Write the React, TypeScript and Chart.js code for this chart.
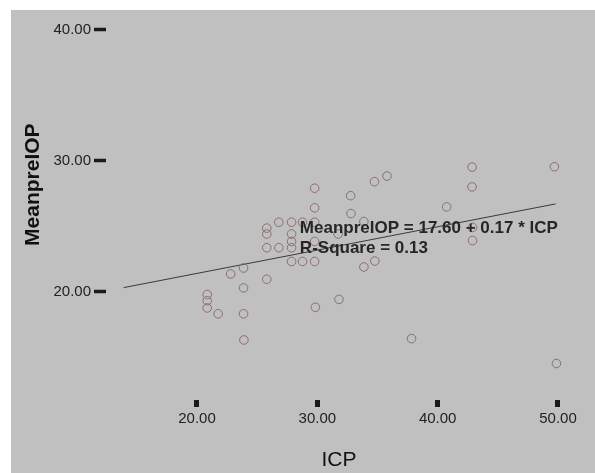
import React, { useEffect, useRef } from "react";
import { Chart, registerables } from "chart.js";

Chart.register(...registerables);

const icp = [
  20.85, 20.85, 20.85, 21.76, 22.8, 23.87, 23.87, 23.87, 23.9, 25.8,
  25.8, 25.8, 25.8, 26.8, 26.8, 27.86, 27.86, 27.86, 27.86, 27.86,
  28.77, 28.77, 29.78, 29.78, 29.78, 29.78, 29.78, 29.84, 31.73, 31.8,
  32.77, 32.8, 33.87, 33.87, 34.75, 34.78, 35.79, 37.83, 40.75, 42.86,
  42.86, 42.9, 42.9, 49.7, 49.87,
];
const meanPreIOP = [
  19.77, 19.3, 18.75, 18.3, 21.35, 21.8, 20.28, 18.3, 16.3, 24.85,
  24.4, 23.35, 20.94, 25.3, 23.35, 25.3, 24.4, 23.83, 23.35, 22.3,
  25.3, 22.3, 27.9, 26.4, 25.3, 23.83, 22.3, 18.8, 24.4, 19.4,
  27.33, 25.96, 25.35, 21.88, 28.4, 22.33, 28.83, 16.4, 26.47, 29.52,
  28.0, 24.9, 23.9, 29.54, 14.5,
];

// Fitted line end points as drawn
const fitX = [13.9, 49.8];
const fitY = [20.3, 26.7];

const xTicks = [20, 30, 40, 50];
const yTicks = [20, 30, 40];

const xTitle = "ICP";
const yTitle = "MeanpreIOP";
const equationText = "MeanpreIOP = 17.60 + 0.17 * ICP";
const rSquareText = "R-Square = 0.13";

const FONT = "'Liberation Sans', Arial, sans-serif";

const decorPlugin = {
  id: "decor",
  beforeDraw(chart: any) {
    const { ctx, width, height } = chart;
    ctx.save();
    ctx.fillStyle = "#c0c0c0";
    ctx.fillRect(11, 10, width - 11, height - 10);
    ctx.restore();
  },
  afterDraw(chart: any) {
    const { ctx, chartArea, scales } = chart;
    ctx.save();
    // equation annotation
    ctx.fillStyle = "#262626";
    ctx.font = `bold 17px ${FONT}`;
    ctx.textAlign = "left";
    ctx.textBaseline = "middle";
    const ax = scales.x.getPixelForValue(28.55);
    const ay = scales.y.getPixelForValue(24.87);
    ctx.fillText(equationText, ax, ay);
    ctx.fillText(rSquareText, ax, ay + 20);

    // y axis title
    ctx.fillStyle = "#111";
    ctx.font = `bold 21px ${FONT}`;
    ctx.textAlign = "center";
    ctx.translate(33, chartArea.top + (chartArea.bottom - chartArea.top) * 0.445);
    ctx.rotate(-Math.PI / 2);
    ctx.fillText(yTitle, 0, 0);
    ctx.restore();

    // x axis title
    ctx.save();
    ctx.fillStyle = "#111";
    ctx.font = `21px ${FONT}`;
    ctx.textAlign = "center";
    ctx.textBaseline = "middle";
    ctx.fillText(xTitle, scales.x.getPixelForValue(31.8), 460);
    ctx.restore();
  },
};

export default function App() {
  const ref = useRef<HTMLCanvasElement | null>(null);

  useEffect(() => {
    if (!ref.current) return;
    const points = icp.map((x, i) => ({ x, y: meanPreIOP[i] }));
    const fit = fitX.map((x, i) => ({ x, y: fitY[i] }));
    const chart = new Chart(ref.current, {
      type: "scatter",
      data: {
        datasets: [
          {
            label: "MeanpreIOP",
            data: points,
            pointRadius: 4.3,
            pointBorderWidth: 1,
            borderColor: "#8c6f6f",
            backgroundColor: "rgba(0,0,0,0)",
            pointBackgroundColor: "rgba(0,0,0,0)",
            pointBorderColor: "#8c6f6f",
          },
          {
            type: "line",
            label: "Fit",
            data: fit,
            borderColor: "#3a3a3a",
            borderWidth: 1,
            pointRadius: 0,
            showLine: true,
            fill: false,
          } as any,
        ],
      },
      options: {
        responsive: false,
        animation: false,
        events: [],
        layout: { padding: { left: 11, top: 10, right: 18, bottom: 0 } },
        plugins: {
          legend: { display: false },
          tooltip: { enabled: false },
        },
        scales: {
          x: {
            type: "linear",
            min: 12.44,
            max: 51.58,
            afterBuildTicks: (s: any) => {
              s.ticks = xTicks.map((v) => ({ value: v }));
            },
            afterFit: (s: any) => {
              s.height = 73;
            },
            grid: {
              drawOnChartArea: false,
              drawTicks: true,
              tickLength: 7,
              tickWidth: 5,
              tickColor: "#1a1a1a",
            },
            border: { display: false },
            ticks: {
              autoSkip: false,
              maxRotation: 0,
              padding: 3,
              color: "#222",
              font: { family: FONT, size: 15 },
              callback: (v: any) => Number(v).toFixed(2),
            },
          },
          y: {
            type: "linear",
            min: 11.71,
            max: 41.37,
            afterBuildTicks: (s: any) => {
              s.ticks = yTicks.map((v) => ({ value: v }));
            },
            afterFit: (s: any) => {
              s.width = 95;
            },
            grid: {
              drawOnChartArea: false,
              drawTicks: true,
              tickLength: 12,
              tickWidth: 3.5,
              tickColor: "#1a1a1a",
            },
            border: { display: false },
            ticks: {
              autoSkip: false,
              padding: 3,
              color: "#222",
              font: { family: FONT, size: 15 },
              callback: (v: any) => Number(v).toFixed(2),
            },
          },
        },
      },
      plugins: [decorPlugin],
    });
    return () => chart.destroy();
  }, []);

  return (
    <div style={{ position: "absolute", left: 0, top: 0, width: 595, height: 473, background: "#fff" }}>
      <canvas ref={ref} width={595} height={473} style={{ display: "block", width: 595, height: 473 }} />
    </div>
  );
}
